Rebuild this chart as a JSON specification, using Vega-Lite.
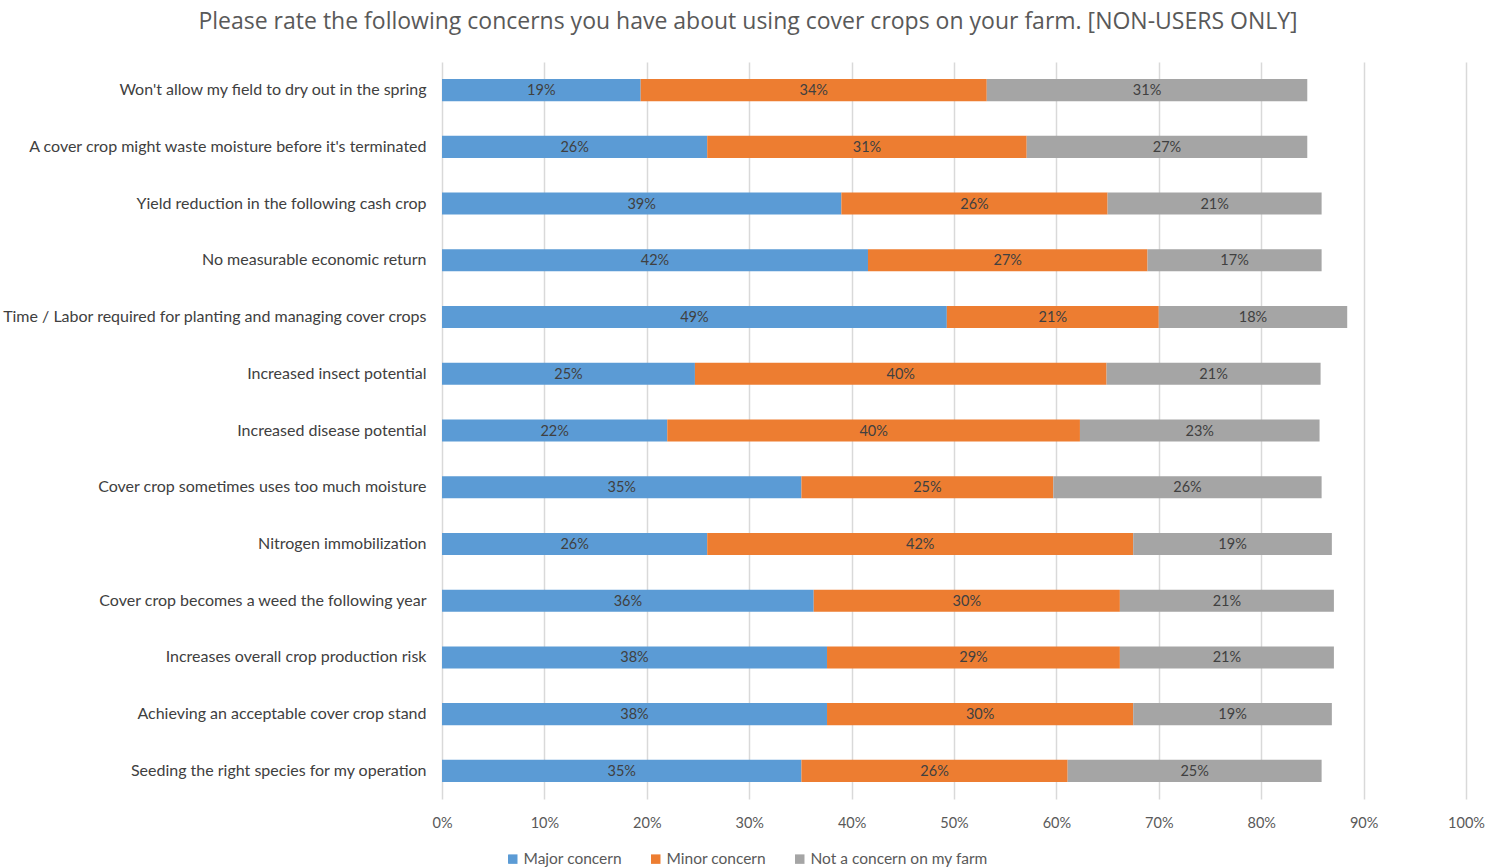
{
  "$schema": "https://vega.github.io/schema/vega-lite/v6.json",
  "autosize": "none",
  "width": 1024,
  "height": 737,
  "padding": {"left": 442, "top": 62, "right": 36, "bottom": 68},
  "background": "white",
  "config": {
    "view": {"stroke": null},
    "font": "Lato"
  },
  "title": {
    "text": "Please rate the following concerns you have about using cover crops on your farm. [NON-USERS ONLY]",
    "font": "Open Sans",
    "fontSize": 23,
    "fontWeight": "normal",
    "color": "#595959",
    "anchor": "middle",
    "dx": -206,
    "offset": 28
  },
  "data": {
    "values": [
      {"concern": "Won't allow my field to dry out in the spring", "category": "Major concern", "value": 0.194},
      {"concern": "Won't allow my field to dry out in the spring", "category": "Minor concern", "value": 0.338},
      {"concern": "Won't allow my field to dry out in the spring", "category": "Not a concern on   my farm", "value": 0.313},
      {"concern": "A cover crop might waste moisture before it's terminated", "category": "Major concern", "value": 0.259},
      {"concern": "A cover crop might waste moisture before it's terminated", "category": "Minor concern", "value": 0.312},
      {"concern": "A cover crop might waste moisture before it's terminated", "category": "Not a concern on   my farm", "value": 0.274},
      {"concern": "Yield reduction in the following cash crop", "category": "Major concern", "value": 0.390},
      {"concern": "Yield reduction in the following cash crop", "category": "Minor concern", "value": 0.260},
      {"concern": "Yield reduction in the following cash crop", "category": "Not a concern on   my farm", "value": 0.209},
      {"concern": "No measurable economic return", "category": "Major concern", "value": 0.416},
      {"concern": "No measurable economic return", "category": "Minor concern", "value": 0.273},
      {"concern": "No measurable economic return", "category": "Not a concern on   my farm", "value": 0.170},
      {"concern": "Time / Labor required for planting and managing cover crops", "category": "Major concern", "value": 0.493},
      {"concern": "Time / Labor required for planting and managing cover crops", "category": "Minor concern", "value": 0.207},
      {"concern": "Time / Labor required for planting and managing cover crops", "category": "Not a concern on   my farm", "value": 0.184},
      {"concern": "Increased insect potential", "category": "Major concern", "value": 0.247},
      {"concern": "Increased insect potential", "category": "Minor concern", "value": 0.402},
      {"concern": "Increased insect potential", "category": "Not a concern on   my farm", "value": 0.209},
      {"concern": "Increased disease potential", "category": "Major concern", "value": 0.220},
      {"concern": "Increased disease potential", "category": "Minor concern", "value": 0.403},
      {"concern": "Increased disease potential", "category": "Not a concern on   my farm", "value": 0.234},
      {"concern": "Cover crop sometimes uses too much moisture", "category": "Major concern", "value": 0.351},
      {"concern": "Cover crop sometimes uses too much moisture", "category": "Minor concern", "value": 0.246},
      {"concern": "Cover crop sometimes uses too much moisture", "category": "Not a concern on   my farm", "value": 0.262},
      {"concern": "Nitrogen immobilization", "category": "Major concern", "value": 0.259},
      {"concern": "Nitrogen immobilization", "category": "Minor concern", "value": 0.416},
      {"concern": "Nitrogen immobilization", "category": "Not a concern on   my farm", "value": 0.194},
      {"concern": "Cover crop becomes a weed the following year", "category": "Major concern", "value": 0.363},
      {"concern": "Cover crop becomes a weed the following year", "category": "Minor concern", "value": 0.299},
      {"concern": "Cover crop becomes a weed the following year", "category": "Not a concern on   my farm", "value": 0.209},
      {"concern": "Increases overall crop production risk", "category": "Major concern", "value": 0.376},
      {"concern": "Increases overall crop production risk", "category": "Minor concern", "value": 0.286},
      {"concern": "Increases overall crop production risk", "category": "Not a concern on   my farm", "value": 0.209},
      {"concern": "Achieving an acceptable cover crop stand", "category": "Major concern", "value": 0.376},
      {"concern": "Achieving an acceptable cover crop stand", "category": "Minor concern", "value": 0.299},
      {"concern": "Achieving an acceptable cover crop stand", "category": "Not a concern on   my farm", "value": 0.194},
      {"concern": "Seeding the right species for my operation", "category": "Major concern", "value": 0.351},
      {"concern": "Seeding the right species for my operation", "category": "Minor concern", "value": 0.260},
      {"concern": "Seeding the right species for my operation", "category": "Not a concern on   my farm", "value": 0.248}
    ]
  },
  "transform": [
    {"stack": "value", "groupby": ["concern"], "sort": [{"field": "category", "order": "ascending"}], "as": ["x0", "x1"]},
    {"calculate": "(datum.x0 + datum.x1) / 2", "as": "xmid"}
  ],
  "encoding": {
    "y": {
      "field": "concern",
      "type": "nominal",
      "sort": null,
      "scale": {"paddingInner": 0.61, "paddingOuter": 0.3},
      "axis": {
        "title": null,
        "domain": false,
        "ticks": false,
        "labelPadding": 16,
        "labelFont": "Lato",
        "labelFontSize": 16,
        "labelColor": "#404040",
        "labelLimit": 0
      }
    }
  },
  "layer": [
    {
      "mark": {"type": "bar"},
      "encoding": {
        "x": {
          "field": "x0",
          "type": "quantitative",
          "scale": {"domain": [0, 1], "nice": false},
          "axis": {
            "title": null,
            "format": ".0%",
            "values": [0, 0.1, 0.2, 0.3, 0.4, 0.5, 0.6, 0.7, 0.8, 0.9, 1],
            "domain": false,
            "ticks": false,
            "grid": true,
            "gridColor": "#d9d9d9",
            "gridWidth": 1.5,
            "labelPadding": 17,
            "labelFlush": false,
            "labelFont": "Lato",
            "labelFontSize": 14.5,
            "labelColor": "#595959"
          }
        },
        "x2": {"field": "x1"},
        "color": {
          "field": "category",
          "type": "nominal",
          "scale": {
            "domain": ["Major concern", "Minor concern", "Not a concern on   my farm"],
            "range": ["#5b9bd5", "#ed7d31", "#a5a5a5"]
          },
          "legend": {
            "title": null,
            "orient": "none",
            "direction": "horizontal",
            "legendX": 63,
            "legendY": 789,
            "symbolType": "square",
            "symbolSize": 90,
            "symbolOpacity": 1,
            "labelFont": "Lato",
            "labelFontSize": 15.5,
            "labelColor": "#595959",
            "labelOffset": 3,
            "labelLimit": 0,
            "columnPadding": 26
          }
        }
      }
    },
    {
      "mark": {"type": "text", "font": "Lato", "fontSize": 14.5, "color": "#404040", "baseline": "middle", "dy": 1},
      "encoding": {
        "x": {"field": "xmid", "type": "quantitative"},
        "text": {"field": "value", "type": "quantitative", "format": ".0%"}
      }
    }
  ]
}
